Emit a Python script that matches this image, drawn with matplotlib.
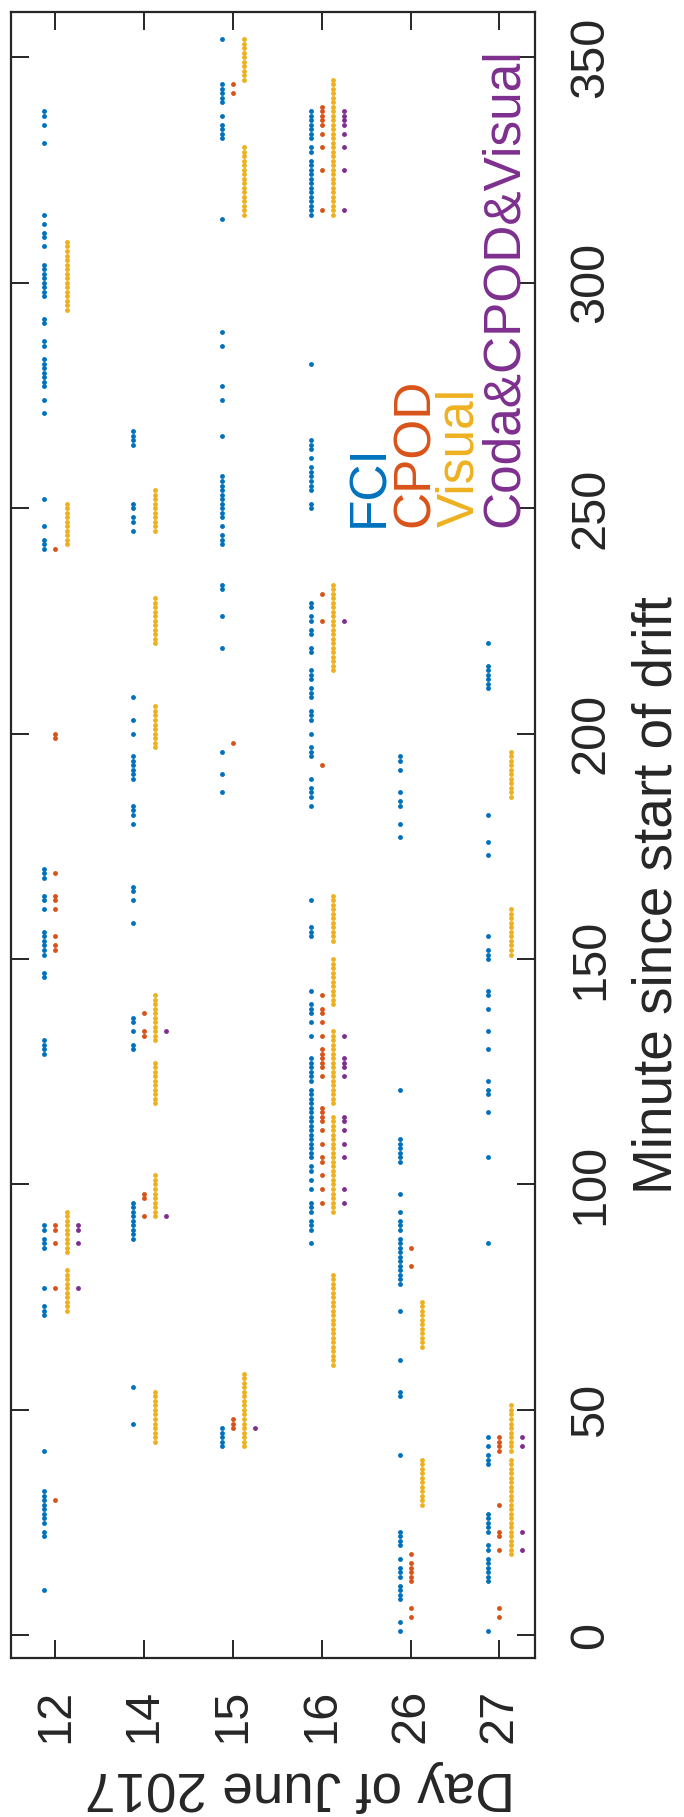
import matplotlib
matplotlib.use("Agg")
import matplotlib.pyplot as plt
import numpy as np

plt.rcParams['font.family'] = ['Liberation Sans', 'DejaVu Sans']

days = [12, 14, 15, 16, 26, 27]
minute_ticks = [0, 50, 100, 150, 200, 250, 300, 350]
series_names = ["FCI", "CPOD", "Visual", "Coda&CPOD&Visual"]
series_colors = ["#0072BD", "#D95319", "#EDB120", "#7E2F8E"]

def r(a, b):
    return list(range(a, b + 1))

fci = {
    12: [338, 337, 335, 331, 315, 313, 311, 310, 308] + r(297, 304)
        + [292, 291, 287, 286] + r(277, 283) + [274, 271, 252, 246, 243, 242, 241]
        + [170, 169, 168, 164, 163, 161] + r(151, 156) + [147, 146, 132, 131, 130, 129]
        + [91, 90, 88, 87, 86, 77, 73, 72, 71, 41] + r(25, 32) + [23, 22, 10],
    14: [267, 266, 265, 264, 251, 250, 248, 247, 245, 208, 203, 200] + r(190, 195)
        + [184, 183, 182, 180, 166, 165, 163, 158, 137, 136, 134, 131, 130]
        + r(88, 96) + [55, 47],
    15: [354, 344, 343, 342, 341, 340, 337, 335, 334, 333, 332, 314,
         289, 286, 277, 274, 266] + r(248, 257) + [246, 244, 243, 242,
         233, 232, 226, 219, 196, 191, 187] + r(42, 46),
    16: r(332, 338) + [330, 329, 327, 326, 325, 324] + r(315, 323)
        + [282, 265, 264, 263, 261] + r(254, 259) + [251, 250]
        + [229, 228, 226, 225, 223, 222, 219, 218, 214, 213, 212, 210, 209, 208,
           205, 204, 203, 200, 197, 196, 195, 190, 188, 187, 186, 184]
        + [163, 157, 156, 155, 143, 140, 139, 138, 136, 133] + r(123, 128)
        + r(106, 121) + [104, 103, 101, 99, 96, 95, 94, 92, 91, 90, 87],
    26: [195, 194, 192, 187, 185, 184, 180, 177, 121] + r(105, 110)
        + [98, 94, 92, 91, 90] + r(78, 88) + [72, 61, 54, 53, 40, 23, 22, 21, 20,
           17, 15, 14, 13, 11, 10, 9, 8, 3, 1],
    27: [220, 215, 214, 213, 212, 211, 210, 182, 176, 173, 155, 152, 151, 150,
         143, 142, 139, 134, 130, 123, 121, 120, 116, 106, 87,
         44, 42, 40, 39, 38, 27, 26, 25, 24, 23, 20, 19] + r(12, 17) + [1],
}

cpod = {
    12: [241, 200, 199, 169, 164, 163, 161, 155, 153, 152, 91, 90, 87, 77, 30],
    14: [138, 134, 133, 98, 97, 93],
    15: [344, 342, 198, 48, 47, 46],
    16: [339, 338, 337, 336, 335, 333, 330, 325, 316, 231, 225, 193,
         142, 139, 138, 136, 133, 130, 129, 128, 127, 126, 124,
         117, 116, 115, 114, 112, 109, 106, 105, 102, 99, 96],
    26: [86, 82, 18, 16, 15, 14, 13, 12, 6, 4],
    27: [44, 43, 42, 41, 29, 23, 22, 19, 6, 4],
}

visual = {
    12: r(294, 309) + r(242, 251) + r(85, 94) + r(72, 81),
    14: r(245, 254) + r(220, 230) + r(197, 206) + r(132, 142) + r(118, 127)
        + r(93, 102) + r(43, 54),
    15: r(345, 354) + r(315, 330) + r(42, 58),
    16: r(315, 345) + r(214, 233) + r(154, 164) + r(140, 150) + r(118, 134)
        + r(94, 115) + r(60, 80),
    26: r(64, 74) + r(29, 39),
    27: r(186, 196) + r(151, 161) + r(41, 51) + r(18, 39),
}

coda = {
    12: [91, 90, 87, 77],
    14: [134, 93],
    15: [46],
    16: [338, 337, 336, 335, 333, 330, 325, 316, 225,
         133, 128, 127, 126, 124, 115, 114, 112, 109, 106, 99, 96],
    26: [],
    27: [44, 42, 23, 19],
}

series = [fci, cpod, visual, coda]
offsets = [-0.125, 0.0, 0.125, 0.25]

W, H = 684, 1817
fig = plt.figure(figsize=(W / 100, H / 100), dpi=100)
ax = fig.add_axes([11 / W, 1 - 1658 / H, 524 / W, 1646 / H])

for data, off, col in zip(series, offsets, series_colors):
    for i, d in enumerate(days):
        vals = data[d]
        if len(vals) == 0:
            continue
        ax.plot(np.full(len(vals), i + 1 + off), vals, linestyle='none',
                marker='o', markersize=3.5, markeredgewidth=0,
                color=col)

ax.set_xlim(0.5, 6.4)
ax.set_ylim(-5, 360)

axcol = "#262626"
for s in ax.spines.values():
    s.set_color(axcol)
    s.set_linewidth(1.6)

ax.set_xticks(range(1, len(days) + 1))
ax.set_xticklabels([str(d) for d in days])
ax.set_yticks(minute_ticks)
ax.set_yticklabels([str(m) for m in minute_ticks])

ax.tick_params(axis='both', direction='in', length=13, width=1.4, color=axcol,
               labelcolor=axcol, labelsize=35)
ax.tick_params(axis='x', top=True, bottom=True, pad=22)
ax.tick_params(axis='y', left=True, right=True, labelleft=False,
               labelright=True, pad=49)

for t in ax.xaxis.get_major_ticks():
    t.label1.set_rotation(90)
    t.label1.set_rotation_mode('anchor')
    t.label1.set_horizontalalignment('right')
    t.label1.set_verticalalignment('center')
for t in ax.yaxis.get_major_ticks():
    t.label2.set_rotation(90)
    t.label2.set_rotation_mode('anchor')
    t.label2.set_horizontalalignment('center')
    t.label2.set_verticalalignment('baseline')

# axis labels (figure is rotated: minute axis on the right, day axis at bottom)
fig.text(300 / W, 1 - 1772 / H, "Day of June 2017", rotation=180,
         rotation_mode='anchor', ha='center', va='baseline',
         fontsize=39.5, color=axcol)
fig.text(671 / W, 1 - 1194 / H, "Minute since start of drift", rotation=90,
         rotation_mode='anchor', ha='left', va='baseline',
         fontsize=39.5, color=axcol)

# legend entries as coloured text
leg_x = [383, 428.6, 473, 518]
for name, col, lx in zip(series_names, series_colors, leg_x):
    fig.text(lx / W, 1 - 527 / H, name, rotation=90, rotation_mode='anchor',
             ha='left', va='baseline', fontsize=37, color=col)

fig.savefig("out.png", dpi=100)
